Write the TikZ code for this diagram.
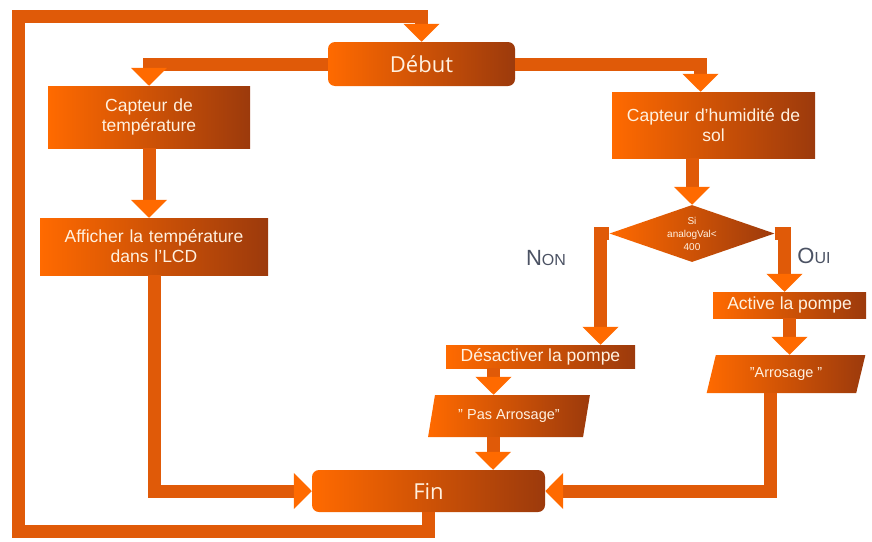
\documentclass[tikz,border=0pt]{standalone}
\usepackage{fontspec}
\setmainfont{Liberation Sans}
\newfontfamily\opensans{Open Sans}
\usetikzlibrary{shapes.geometric,arrows.meta}
\definecolor{oL}{HTML}{FF6A00}
\definecolor{oD}{HTML}{9C3A0C}
\definecolor{barc}{HTML}{E05A08}
\definecolor{txt}{HTML}{FFF1E0}
\definecolor{lbl}{HTML}{4B5263}
\newcommand{\qq}{\symbol{34}}
\begin{document}
\begin{tikzpicture}[x=1pt,y=-1pt,
 box/.style={draw=none,left color=oL,right color=oD,text=txt,align=center,inner sep=2pt,font=\fontsize{17.5}{20}\selectfont},
 rbox/.style={box,rounded corners=7pt,font=\opensans\fontsize{22}{24}\selectfont},
 para/.style={box,trapezium,trapezium left angle=70,trapezium right angle=110,trapezium stretches=true,font=\fontsize{14.5}{16}\selectfont},
 bar/.style={draw=barc,line width=13pt,line join=miter,-{Triangle[width=35pt,length=18pt,color=oL]}},
 yn/.style={text=lbl,inner sep=0pt}
]
\useasboundingbox (0,0) rectangle (872,541);
\coordinate (tl) at (18,16);
\coordinate (bl) at (18,531);

\node[rbox,minimum width=187,minimum height=44] (debut) at (421.5,64) {Début};
\node[box,minimum width=202,minimum height=62,text width=198] (ct) at (149,117) {Capteur de\\température};
\node[box,minimum width=228,minimum height=57,text width=224] (aff) at (154,246.5) {Afficher la température\\dans l'LCD};
\node[box,minimum width=203,minimum height=66,text width=199] (ch) at (713.5,125) {Capteur d’humidité de\\sol};
\node[box,diamond,aspect=2.9,inner sep=0pt,minimum width=165,minimum height=57,font=\fontsize{10}{13}\selectfont] (dia) at (692,233.5) {Si\\analogVal<\\400};
\node[box,minimum width=153,minimum height=26,inner sep=0pt] (act) at (789.5,305) {Active la pompe};
\node[box,minimum width=189,minimum height=23,inner sep=0pt] (desact) at (540.5,356.5) {Désactiver la pompe};
\node[para,minimum width=160,minimum height=38,inner sep=0pt] (arr) at (786,374) {\qq Arrosage \qq};
\node[para,minimum width=162,minimum height=42,inner sep=0pt] (pas) at (509,416) {\qq{} Pas Arrosage\qq};
\node[rbox,minimum width=233,minimum height=42] (fin) at (428.5,491) {Fin};

\node[yn] (non) at (546,258) {{\fontsize{22}{22}\selectfont N}{\fontsize{16}{16}\selectfont ON}};
\node[yn] (oui) at (814,256) {{\fontsize{22}{22}\selectfont O}{\fontsize{16}{16}\selectfont UI}};

\coordinate (c1) at ([xshift=-13pt]ch.north);
\coordinate (c2) at ([xshift=60pt]desact.north);
\coordinate (c3) at ([xshift=-5pt]act.north);
\coordinate (c4) at ([xshift=-16pt]arr.south);
\coordinate (d1) at ([xshift=-47pt]desact.south);
\coordinate (p1) at ([xshift=-16pt]pas.south);

\draw[bar] (fin.south) |- (bl) |- (debut.north |- tl) -- (debut.north);
\draw[bar] (debut.west) -| (ct.north);
\draw[bar] (debut.east) -| (c1);
\draw[bar] (ct.south) -- (ct.south |- aff.north);
\draw[bar] (aff.south) |- (fin.west);
\draw[bar] (dia.north |- ch.south) -- (dia.north);
\draw[bar] (dia.west) -| (c2);
\draw[bar] (dia.east) -| (c3);
\draw[bar] (act.south) -- (act.south |- arr.north);
\draw[bar] (c4) |- (fin.east);
\draw[bar] (d1) -- (d1 |- pas.north);
\draw[bar] (p1) -- (p1 |- fin.north);
\end{tikzpicture}
\end{document}
